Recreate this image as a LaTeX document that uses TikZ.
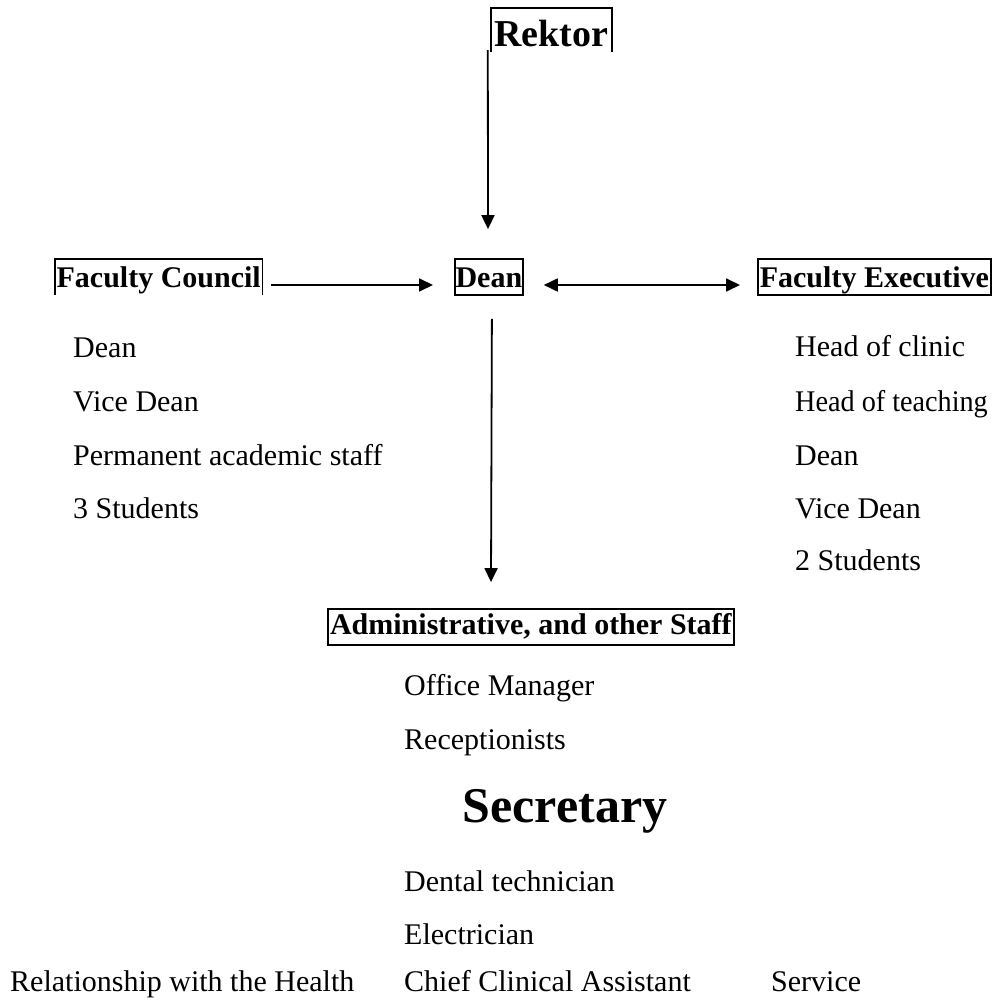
\documentclass[tikz,border=0pt]{standalone}
\usepackage{fontspec}
\setmainfont{Liberation Serif}
\usetikzlibrary{arrows.meta,calc}
\begin{document}
\begin{tikzpicture}[x=1pt,y=-1pt,
  hdr/.style={font=\fontsize{30}{36}\selectfont\bfseries, inner sep=0pt, text height=29pt, text depth=7pt, anchor=base west},
  item/.style={font=\fontsize{30}{36}\selectfont, anchor=base west, inner sep=0pt},
  conn/.style={line width=1.8pt, -{Triangle[length=14pt,width=13pt]}},
  dconn/.style={line width=1.8pt, {Triangle[length=14pt,width=13pt]}-{Triangle[length=14pt,width=13pt]}},
  frame/.style={line width=1.8pt}]
\useasboundingbox (0,0) rectangle (1002,1000);

% Rektor
\node[font=\fontsize{38}{44}\selectfont\bfseries, inner sep=0pt, text height=39pt, text depth=5pt, minimum width=121pt, anchor=base] (rektor) at (551.5,47) {Rektor};
\draw[frame] (rektor.south west) -- (rektor.north west) -- (rektor.north east) -- (rektor.south east);

% Row of headers
\node[hdr, minimum width=207pt] (fc) at (55,288) {Faculty Council};
\draw[frame] (fc.south west) -- (fc.north west) -- (fc.north east) -- (fc.south east);
\node[hdr, draw, frame, minimum width=68pt] (dean) at (454,288) {Dean};
\node[hdr, draw, frame, minimum width=233pt] (fe) at (757,288) {Faculty Executive};

% Admin
\node[hdr, draw, frame, minimum width=406pt, text height=25pt, text depth=11pt] (admin) at (327,634) {Administrative, and other Staff};

% Connectors
\draw[conn] ($(rektor.south west)+(-3,-2)$) -- ($(dean.north west)+(34,-29)$);
\draw[conn] ($(fc.east)+(9,8)$) -- ($(dean.west)+(-21,8)$);
\draw[dconn] ($(dean.east)+(20,8)$) -- ($(fe.west)+(-17,8)$);
\draw[conn] ($(dean.south)+(3,23)$) -- ($(admin.north west)+(164,-26)$);

% Left list
\node[item] (l1) at (73,358) {Dean};
\node[item] (l2) at (73,412) {Vice Dean};
\node[item] (l3) at (73,465) {Permanent academic staff};
\node[item] (l4) at (73,518) {3 Students};

% Right list
\node[item] (r1) at (795,357) {Head of clinic};
\node[item] (r2) at (795,411) {\scalebox{0.94}[1]{Head of teaching}};
\node[item] (r3) at (795,465) {Dean};
\node[item] (r4) at (795,518) {Vice Dean};
\node[item] (r5) at (795,570) {2 Students};

% Admin list
\node[item] (a1) at (404,695) {Office Manager};
\node[item] (a2) at (404,749) {Receptionists};
\node[font=\fontsize{50}{56}\selectfont\bfseries, anchor=base, inner sep=0pt] (sec) at (565,822) {Secretary};
\node[item] (a3) at (404,891) {Dental technician};
\node[item] (a4) at (404,944) {Electrician};

% Bottom row
\node[item] (b1) at (10,991) {Relationship with the Health};
\node[item] (b2) at (404,991) {Chief Clinical Assistant};
\node[item] (b3) at (771,991) {Service};
\end{tikzpicture}
\end{document}
